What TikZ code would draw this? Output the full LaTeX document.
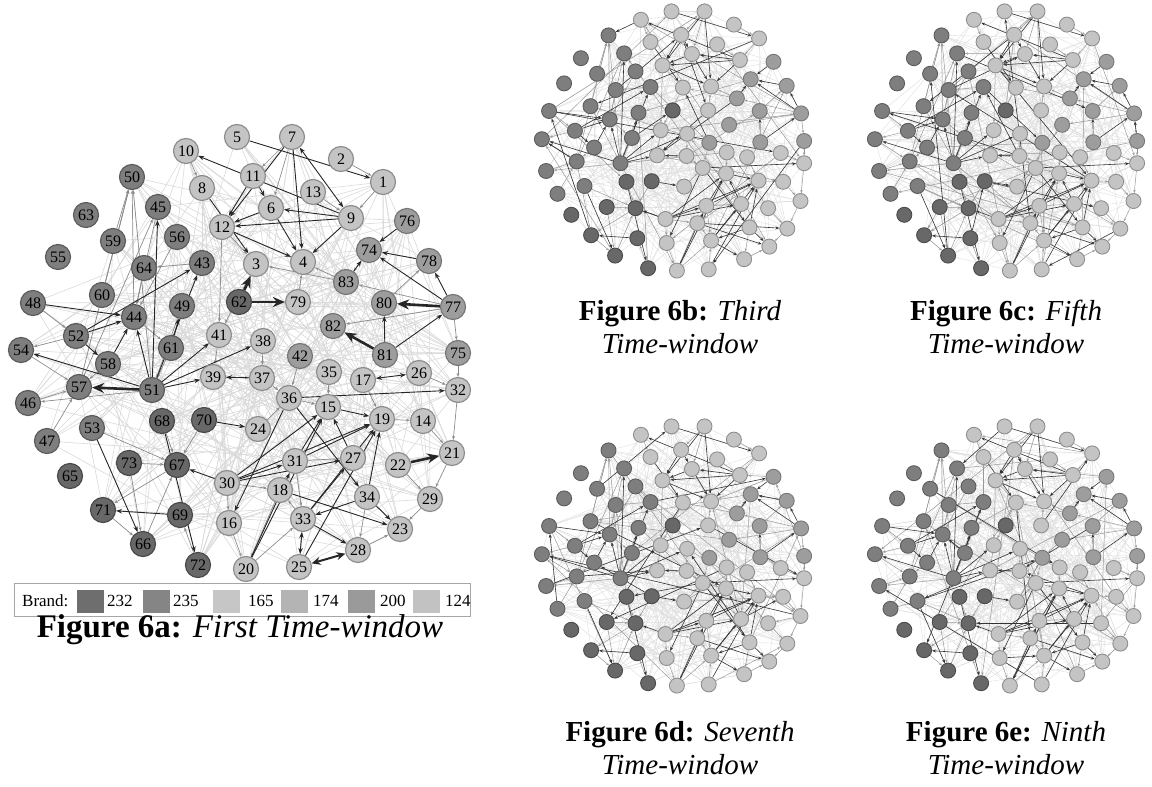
\documentclass[tikz,border=0pt]{standalone}
\usepackage{fontspec}
\setmainfont{Liberation Serif}
\usetikzlibrary{arrows.meta}
\pgfdeclarelayer{bg}
\pgfsetlayers{bg,main}
\definecolor{cD}{HTML}{686868}
\definecolor{cE}{HTML}{7E7E7E}
\definecolor{cM}{HTML}{9D9D9D}
\definecolor{cL}{HTML}{C4C4C4}
\definecolor{bD}{HTML}{4A4A4A}
\definecolor{bE}{HTML}{5C5C5C}
\definecolor{bM}{HTML}{777777}
\definecolor{bL}{HTML}{8E8E8E}
\definecolor{g232}{HTML}{6E6E6E}
\definecolor{g235}{HTML}{858585}
\definecolor{g165}{HTML}{C6C6C6}
\definecolor{g174}{HTML}{B4B4B4}
\definecolor{g200}{HTML}{9A9A9A}
\definecolor{g124}{HTML}{C2C2C2}
\def\nodelist{1/383/182/L,2/341/159/L,3/256/264/L,4/303/262/L,5/237/137/L,6/271/208/L,7/292/137/L,8/202/188/L,9/351/218/L,10/186/151/L,11/253/176/L,12/222/227/L,13/313/192/L,14/423/421/L,15/328/407/L,16/229/523/L,17/363/380/L,18/280/490/L,19/382/419/L,20/246/569/L,21/452/453/L,22/398/465/L,23/400/529/L,24/258/429/L,25/299/567/L,26/419/373/L,27/353/458/L,28/358/550/L,29/430/499/L,30/227/483/L,31/295/461/L,32/458/390/L,33/303/519/L,34/367/497/L,35/329/372/L,36/289/398/L,37/262/378/L,38/263/341/L,39/213/377/L,41/219/335/L,42/300/356/M,43/202/263/E,44/134/317/E,45/158/207/E,46/28/403/E,47/47/441/E,48/33/303/E,49/182/306/E,50/132/177/E,51/152/390/E,52/76/336/E,53/92/428/E,54/21/350/E,55/58/257/E,56/177/237/E,57/79/387/E,58/108/364/E,59/113/241/E,60/102/295/E,61/171/348/E,62/239/302/D,63/86/215/E,64/144/268/E,65/70/476/D,66/143/544/D,67/177/465/D,68/162/421/D,69/180/515/D,70/204/420/D,71/103/510/D,72/198/565/D,73/129/463/D,74/369/250/M,75/458/353/M,76/407/221/M,77/453/307/M,78/429/261/M,79/298/302/L,80/384/303/M,81/385/355/M,82/333/326/M,83/346/282/M}
\def\connarr{{1,3,4,5,6,7,8,9,10,11,12,13,14,15,16,17,18,19,20,21,22,23,24,25,26,27,28,29,30,31,32,33,34,35,36,37,38,39,41,42,43,44,45,46,47,48,49,50,51,52,53,54,56,57,58,59,60,61,62,64,66,67,68,69,70,71,72,73,74,75,76,77,78,79,80,81,82,83}}
\def\darklist{48/44,52/43,52/44,58/44,51/44,51/45,61/49,51/43,51/41,51/38,51/39,51/54,52/58,9/10,5/1,7/4,11/12,7/12,6/12,9/12,9/4,6/4,11/6,8/3,12/4,9/6,76/74,78/74,77/74,77/78,81/80,81/77,83/74,37/39,36/32,15/19,36/34,70/24,30/15,30/19,30/31,30/27,30/67,31/15,31/19,27/15,34/19,34/23,34/33,33/28,20/15,20/31,18/23,33/19,33/27,25/19,36/16,53/66,69/71,68/72}
\def\medlist{77/83,77/82,83/3,51/50,59/50,57/50,60/50,48/52,67/71,53/67,29/23,21/29,57/45,44/50,12/3,10/8,7/11,7/6,13/9,74/83,80/78,77/75,19/14,22/29,32/21,18/20,16/20,30/16,33/18,31/27,35/15,36/15,37/36,39/37,24/36,71/66,66/67,72/69,73/66,51/46,58/57,54/57,46/57,52/54,44/61,61/51,43/64,45/44,56/44,64/44,49/51,41/39,83/4,1/9,2/1,20/33,25/33,28/23,34/28,30/18,31/33,42/36,38/37,17/19,26/32,14/21,75/32,47/57,68/67,70/67,73/67,12/41,3/41,79/4}
\tikzset{
  nd/.style={circle,minimum size=25pt,inner sep=0pt,line width=1.2pt,font=\fontsize{16}{16}\selectfont},
  sm/.style={circle,minimum size=15pt,inner sep=0pt,line width=0.9pt},
  faint/.style={black!15,line width=0.6pt},
  sfaint/.style={black!13,line width=0.4pt},
  dk/.style={black!85,line width=0.9pt,-{Stealth[length=6pt,width=4.5pt]}},
  dkb/.style={black!85,line width=0.9pt,{Stealth[length=6pt,width=4.5pt]}-{Stealth[length=6pt,width=4.5pt]}},
  md/.style={black!45,line width=0.7pt,-{Stealth[length=4pt,width=3pt]}},
  thk/.style={black!85,line width=2.6pt,-{Stealth[length=12pt,width=10pt]}},
  thkb/.style={black!85,line width=2pt,{Stealth[length=9pt,width=8pt]}-{Stealth[length=9pt,width=8pt]}},
  sdk/.style={black!80,line width=0.6pt,-{Stealth[length=4pt,width=3pt]}},
  smd/.style={black!40,line width=0.5pt,-{Stealth[length=3pt,width=2.4pt]}},
  swatch/.style={minimum width=27pt,minimum height=23pt,inner sep=0pt,draw=none},
  lg/.style={anchor=west,inner sep=0pt,font=\fontsize{17}{17}\selectfont},
  capt/.style={align=center,font=\fontsize{29}{33}\selectfont},
}
\newcommand\drawsmall[4]{%
  \foreach \i/\x/\y/\cl in \nodelist {\node[sm,fill=c\cl,draw=b\cl] (#1\i) at ({#2+0.6*(\x-239.5)},{#3+0.6*(\y-353)}) {};}
  \begin{pgfonlayer}{bg}
    \pgfmathsetseed{#4}
    \foreach \r in {0,...,77} {\foreach \k in {1,2,3,4,5} {%
      \pgfmathrandominteger{\ra}{0}{77}%
      \pgfmathtruncatemacro{\ia}{\connarr[\r]}%
      \pgfmathtruncatemacro{\ja}{\connarr[\ra]}%
      \ifnum\ia=\ja\else\draw[sfaint] (#1\ia) -- (#1\ja);\fi}}
    \foreach \k in {1,...,25} {%
      \pgfmathrandominteger{\ra}{0}{77}\pgfmathrandominteger{\rb}{0}{77}%
      \pgfmathtruncatemacro{\ia}{\connarr[\ra]}%
      \pgfmathtruncatemacro{\ja}{\connarr[\rb]}%
      \ifnum\ia=\ja\else\draw[smd] (#1\ia) -- (#1\ja);\fi}
    \foreach \sa/\ta in \medlist {\draw[smd] (#1\sa) -- (#1\ta);}
    \foreach \sa/\ta in \darklist {\draw[sdk] (#1\sa) -- (#1\ta);}
    \foreach \k in {1,...,14} {%
      \pgfmathrandominteger{\ra}{0}{77}\pgfmathrandominteger{\rb}{0}{77}%
      \pgfmathtruncatemacro{\ia}{\connarr[\ra]}%
      \pgfmathtruncatemacro{\ja}{\connarr[\rb]}%
      \ifnum\ia=\ja\else\draw[sdk] (#1\ia) -- (#1\ja);\fi}
  \end{pgfonlayer}
}
\begin{document}
\begin{tikzpicture}[x=1pt,y=-1pt]
\useasboundingbox (0,0) rectangle (1152,787);
% ---------- Figure 6a ----------
\foreach \i/\x/\y/\cl in \nodelist {\node[nd,fill=c\cl,draw=b\cl] (a\i) at (\x,\y) {\i};}
\begin{pgfonlayer}{bg}
  \pgfmathsetseed{11}
  \foreach \r in {0,...,77} {\foreach \k in {1,2,3,4,5} {%
    \pgfmathrandominteger{\ra}{0}{77}%
    \pgfmathtruncatemacro{\ia}{\connarr[\r]}%
    \pgfmathtruncatemacro{\ja}{\connarr[\ra]}%
    \ifnum\ia=\ja\else\draw[faint] (a\ia) -- (a\ja);\fi}}
  \foreach \sa/\ta in \medlist {\draw[md] (a\sa) -- (a\ta);}
  \foreach \sa/\ta in \darklist {\draw[dk] (a\sa) -- (a\ta);}
  \foreach \sa/\ta in {7/9,17/26,33/25} {\draw[dkb] (a\sa) -- (a\ta);}
  \foreach \sa/\ta in {62/3,62/79,81/82,22/21,77/80,51/57} {\draw[thk] (a\sa) -- (a\ta);}
  \draw[thkb] (a25) -- (a28);
\end{pgfonlayer}
% legend
\node[draw=black!35,line width=0.8pt,minimum width=456pt,minimum height=33pt,inner sep=0pt,anchor=north west] (legend) at (14,583) {};
\node[lg] (brand) at (22,601) {Brand:};
\node[swatch,fill=g232] (s1) at (90.5,601) {};
\node[lg] (t1) at (107,601) {232};
\node[swatch,fill=g235] (s2) at (156,601) {};
\node[lg] (t2) at (173,601) {235};
\node[swatch,fill=g165] (s3) at (226.5,601) {};
\node[lg] (t3) at (248,601) {165};
\node[swatch,fill=g174] (s4) at (294,601) {};
\node[lg] (t4) at (313,601) {174};
\node[swatch,fill=g200] (s5) at (361,601) {};
\node[lg] (t5) at (380,601) {200};
\node[swatch,fill=g124] (s6) at (426,601) {};
\node[lg] (t6) at (445,601) {124};
\node[font=\fontsize{33}{37}\selectfont] (capA) at (240,630) {\textbf{Figure 6a:} \textit{First Time-window}};
% ---------- small figures ----------
\drawsmall{b}{673}{141}{21}
\drawsmall{c}{1006}{141}{37}
\drawsmall{d}{673}{556}{53}
\drawsmall{e}{1006}{556}{71}
\node[capt] (capB) at (680,327) {\textbf{Figure 6b:} \textit{Third}\\\textit{Time-window}};
\node[capt] (capC) at (1006,327) {\textbf{Figure 6c:} \textit{Fifth}\\\textit{Time-window}};
\node[capt] (capD) at (680,748) {\textbf{Figure 6d:} \textit{Seventh}\\\textit{Time-window}};
\node[capt] (capE) at (1006,748) {\textbf{Figure 6e:} \textit{Ninth}\\\textit{Time-window}};
\end{tikzpicture}
\end{document}
